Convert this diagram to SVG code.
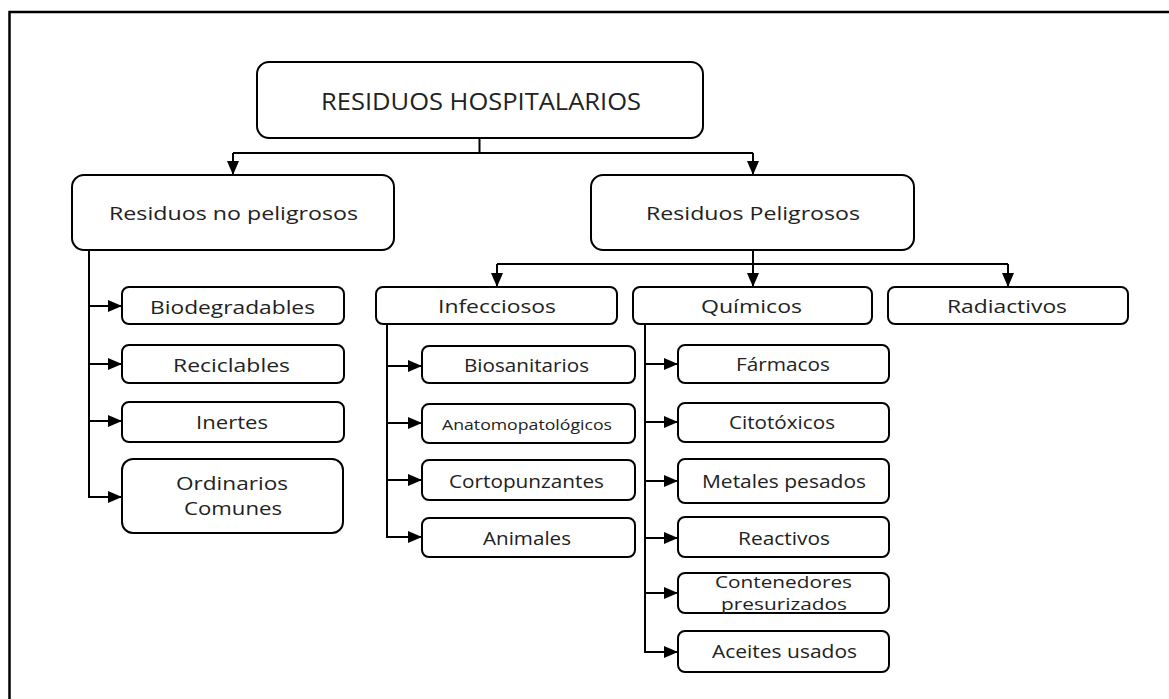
<svg xmlns="http://www.w3.org/2000/svg" width="1169" height="699" viewBox="0 0 1169 699">
<style>
.box{fill:#fff;stroke:#000;stroke-width:2}
.t{font-family:"Open Sans","Noto Sans",sans-serif;fill:#222;text-anchor:middle}
.c{fill:none;stroke:#000;stroke-width:2}
</style>
<defs>
<marker id="ah" markerUnits="userSpaceOnUse" markerWidth="14" markerHeight="12" refX="14" refY="6" orient="auto">
<path d="M0,0 L14,6 L0,12 z" fill="#000"/>
</marker>
</defs>
<rect width="1169" height="699" fill="#fff"/>
<path d="M9.5,699 V12 H1169" fill="none" stroke="#000" stroke-width="2.5"/>
<g id="connectors" class="c">
<path d="M479.5,138 V153"/>
<path d="M233,153 H753"/>
<path d="M233,153 V175" marker-end="url(#ah)"/>
<path d="M753,153 V175" marker-end="url(#ah)"/>
<path d="M89,250 V497 H122" marker-end="url(#ah)"/>
<path d="M89,306 H122" marker-end="url(#ah)"/>
<path d="M89,364 H122" marker-end="url(#ah)"/>
<path d="M89,421 H122" marker-end="url(#ah)"/>
<path d="M753,250 V264"/>
<path d="M497,264 H1008"/>
<path d="M497,264 V287" marker-end="url(#ah)"/>
<path d="M753,264 V287" marker-end="url(#ah)"/>
<path d="M1008,264 V287" marker-end="url(#ah)"/>
<path d="M387,324 V537 H422" marker-end="url(#ah)"/>
<path d="M387,366 H422" marker-end="url(#ah)"/>
<path d="M387,423 H422" marker-end="url(#ah)"/>
<path d="M387,480 H422" marker-end="url(#ah)"/>
<path d="M645,324 V652 H678" marker-end="url(#ah)"/>
<path d="M645,364 H678" marker-end="url(#ah)"/>
<path d="M645,422 H678" marker-end="url(#ah)"/>
<path d="M645,481 H678" marker-end="url(#ah)"/>
<path d="M645,538 H678" marker-end="url(#ah)"/>
<path d="M645,593 H678" marker-end="url(#ah)"/>
</g>
<g id="n-root"><rect class="box" x="257" y="62" width="446" height="76" rx="12"/><text class="t" x="481" y="110" font-size="23" textLength="320" lengthAdjust="spacingAndGlyphs">RESIDUOS HOSPITALARIOS</text></g>
<g id="n-nopel"><rect class="box" x="72" y="175" width="322" height="75" rx="12"/><text class="t" x="233.5" y="220" font-size="19" textLength="249" lengthAdjust="spacingAndGlyphs">Residuos no peligrosos</text></g>
<g id="n-pel"><rect class="box" x="591" y="175" width="323" height="75" rx="12"/><text class="t" x="753" y="220" font-size="19" textLength="214" lengthAdjust="spacingAndGlyphs">Residuos Peligrosos</text></g>
<g id="n-biodeg"><rect class="box" x="122" y="287" width="222" height="37" rx="7"/><text class="t" x="232.5" y="314" font-size="19" textLength="165" lengthAdjust="spacingAndGlyphs">Biodegradables</text></g>
<g id="n-recicl"><rect class="box" x="122" y="345" width="222" height="38" rx="7"/><text class="t" x="231.5" y="372" font-size="19" textLength="117" lengthAdjust="spacingAndGlyphs">Reciclables</text></g>
<g id="n-inertes"><rect class="box" x="122" y="402" width="222" height="40" rx="7"/><text class="t" x="232" y="429" font-size="19" textLength="72" lengthAdjust="spacingAndGlyphs">Inertes</text></g>
<g id="n-ordin"><rect class="box" x="122" y="459" width="221" height="74" rx="11"/><text class="t" x="232" y="490" font-size="19" textLength="112" lengthAdjust="spacingAndGlyphs">Ordinarios</text><text class="t" x="233" y="515" font-size="19" textLength="98" lengthAdjust="spacingAndGlyphs">Comunes</text></g>
<g id="n-infec"><rect class="box" x="376" y="287" width="241" height="37" rx="7"/><text class="t" x="497" y="313" font-size="19" textLength="118" lengthAdjust="spacingAndGlyphs">Infecciosos</text></g>
<g id="n-biosan"><rect class="box" x="422" y="346" width="213" height="37" rx="7"/><text class="t" x="526.5" y="372" font-size="18" textLength="125" lengthAdjust="spacingAndGlyphs">Biosanitarios</text></g>
<g id="n-anato"><rect class="box" x="422" y="404" width="213" height="39" rx="7"/><text class="t" x="527" y="430" font-size="14" textLength="170" lengthAdjust="spacingAndGlyphs">Anatomopatológicos</text></g>
<g id="n-corto"><rect class="box" x="422" y="460" width="213" height="40" rx="7"/><text class="t" x="526.5" y="488" font-size="18" textLength="155" lengthAdjust="spacingAndGlyphs">Cortopunzantes</text></g>
<g id="n-anim"><rect class="box" x="422" y="518" width="213" height="39" rx="7"/><text class="t" x="527" y="545" font-size="18" textLength="88" lengthAdjust="spacingAndGlyphs">Animales</text></g>
<g id="n-quim"><rect class="box" x="633" y="287" width="239" height="37" rx="7"/><text class="t" x="751.5" y="313" font-size="19" textLength="101" lengthAdjust="spacingAndGlyphs">Químicos</text></g>
<g id="n-radia"><rect class="box" x="888" y="287" width="240" height="37" rx="7"/><text class="t" x="1007" y="313" font-size="19" textLength="120" lengthAdjust="spacingAndGlyphs">Radiactivos</text></g>
<g id="n-farm"><rect class="box" x="678" y="345" width="211" height="38" rx="7"/><text class="t" x="783" y="371" font-size="18" textLength="94" lengthAdjust="spacingAndGlyphs">Fármacos</text></g>
<g id="n-cito"><rect class="box" x="678" y="403" width="211" height="39" rx="7"/><text class="t" x="782" y="429" font-size="18" textLength="106" lengthAdjust="spacingAndGlyphs">Citotóxicos</text></g>
<g id="n-metal"><rect class="box" x="678" y="459" width="211" height="44" rx="7"/><text class="t" x="784" y="488" font-size="18" textLength="164" lengthAdjust="spacingAndGlyphs">Metales pesados</text></g>
<g id="n-react"><rect class="box" x="678" y="517" width="211" height="40" rx="7"/><text class="t" x="784" y="545" font-size="18" textLength="92" lengthAdjust="spacingAndGlyphs">Reactivos</text></g>
<g id="n-conten"><rect class="box" x="678" y="573" width="211" height="40" rx="7"/><text class="t" x="783.5" y="588" font-size="17" textLength="137" lengthAdjust="spacingAndGlyphs">Contenedores</text><text class="t" x="784" y="610" font-size="17" textLength="126" lengthAdjust="spacingAndGlyphs">presurizados</text></g>
<g id="n-aceit"><rect class="box" x="678" y="631" width="211" height="41" rx="7"/><text class="t" x="784.5" y="658" font-size="18" textLength="145" lengthAdjust="spacingAndGlyphs">Aceites usados</text></g>
</svg>
